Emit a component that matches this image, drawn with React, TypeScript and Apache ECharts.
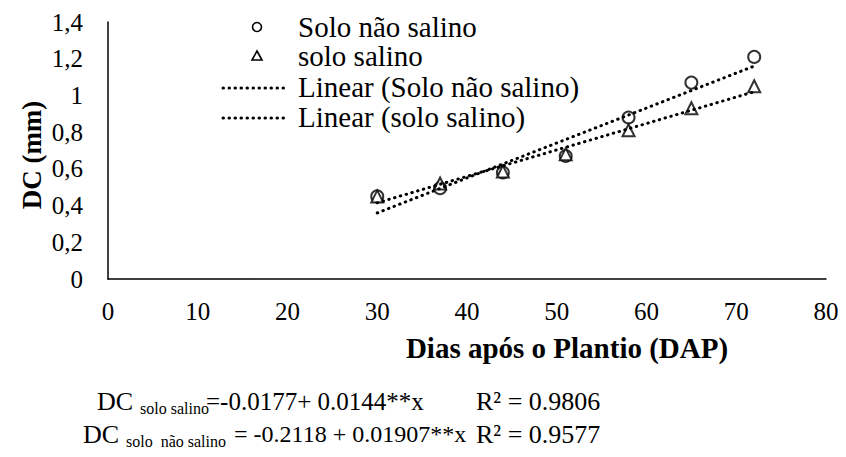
import React, { useEffect, useRef } from "react";
import * as echarts from "echarts";

const days = [30, 37, 44, 51, 58, 65, 72];
const naoSalino = [0.45, 0.495, 0.58, 0.67, 0.88, 1.07, 1.21];
const salino = [0.45, 0.52, 0.585, 0.68, 0.81, 0.93, 1.05];
const trendNaoSalino = [[30, 0.36], [72, 1.16]];
const trendSalino = [[30, 0.415], [72, 1.02]];
const legendNames = ["Solo não salino", "solo salino", "Linear (Solo não salino)", "Linear (solo salino)"];

const FONT = "Liberation Serif";

export default function App() {
  const ref = useRef<HTMLDivElement>(null);
  useEffect(() => {
    if (!ref.current) return;
    const chart = echarts.init(ref.current, null, { renderer: "svg" });
    const dotted = { color: "#000", width: 3, type: [0.5, 5.5] as any, cap: "round" as any };
    const txt = (x: number, y: number, text: string, size: number, extra: any = {}) => ({
      type: "text",
      x,
      y,
      style: { text, fontFamily: FONT, fontSize: size, fill: "#000", verticalAlign: "middle", ...extra },
    });
    const legendY = [27, 56, 87, 117];
    chart.setOption({
      animation: false,
      backgroundColor: "#fff",
      grid: { left: 108, right: 20, top: 22, bottom: 178, containLabel: false },
      xAxis: {
        type: "value",
        min: 0,
        max: 80,
        interval: 10,
        axisLine: { show: true, lineStyle: { color: "#000", width: 1.5 } },
        axisTick: { show: false },
        splitLine: { show: false },
        axisLabel: { color: "#000", fontFamily: FONT, fontSize: 25, margin: 20 },
      },
      yAxis: {
        type: "value",
        min: 0,
        max: 1.4,
        interval: 0.2,
        axisLine: { show: true, lineStyle: { color: "#000", width: 1.5 } },
        axisTick: { show: false },
        splitLine: { show: false },
        axisLabel: {
          color: "#000",
          fontFamily: FONT,
          fontSize: 25,
          margin: 25,
          formatter: (v: number) => String(Math.round(v * 10) / 10).replace(".", ","),
        },
      },
      graphic: [
        {
          type: "text",
          x: 32,
          y: 155,
          rotation: Math.PI / 2,
          style: { text: "DC (mm)", fontFamily: FONT, fontWeight: "bold", fontSize: 27, fill: "#000", align: "center", verticalAlign: "middle" },
        },
        {
          type: "text",
          x: 567,
          y: 348,
          style: { text: "Dias após o Plantio (DAP)", fontFamily: FONT, fontWeight: "bold", fontSize: 29, fill: "#000", align: "center", verticalAlign: "middle" },
        },
        // legend
        { type: "circle", shape: { cx: 257, cy: legendY[0], r: 4.5 }, style: { fill: "#fff", stroke: "#000", lineWidth: 1.6 } },
        { type: "polygon", shape: { points: [[252, legendY[1] + 4], [262, legendY[1] + 4], [257, legendY[1] - 5]] }, style: { fill: "#fff", stroke: "#000", lineWidth: 1.6 } },
        { type: "line", shape: { x1: 223, y1: legendY[2] + 1, x2: 288, y2: legendY[2] + 1 }, style: { stroke: "#000", lineWidth: 3, lineDash: [0.5, 5.5], lineCap: "round" } },
        { type: "line", shape: { x1: 223, y1: legendY[3] + 1, x2: 288, y2: legendY[3] + 1 }, style: { stroke: "#000", lineWidth: 3, lineDash: [0.5, 5.5], lineCap: "round" } },
        ...legendNames.map((n, i) => txt(298, legendY[i], n, 29)),
        // equations
        txt(97, 401, "DC", 26),
        txt(140, 408, "solo salino", 16),
        txt(206, 401, "=-0.0177+ 0.0144**x", 25),
        txt(476, 401, "R² = 0.9806", 26),
        txt(83, 434, "DC", 26),
        txt(126, 441, "solo  não salino", 16),
        txt(234, 434, "= -0.2118 + 0.01907**x", 24),
        txt(476, 434, "R² = 0.9577", 26),
      ],
      series: [
        {
          name: legendNames[0],
          type: "scatter",
          symbol: "emptyCircle",
          symbolSize: 12,
          itemStyle: { color: "#000", borderColor: "#000", borderWidth: 1.8 },
          data: days.map((d, i) => [d, naoSalino[i]]),
          z: 2,
        },
        {
          name: legendNames[1],
          type: "scatter",
          symbol: "emptyTriangle",
          symbolSize: 12,
          itemStyle: { color: "#000", borderColor: "#000", borderWidth: 1.8 },
          data: days.map((d, i) => [d, salino[i]]),
          z: 2,
        },
        {
          name: legendNames[2],
          type: "line",
          symbol: "none",
          lineStyle: dotted,
          data: trendNaoSalino,
          z: 3,
        },
        {
          name: legendNames[3],
          type: "line",
          symbol: "none",
          lineStyle: dotted,
          data: trendSalino,
          z: 3,
        },
      ],
    });
    return () => chart.dispose();
  }, []);
  return <div ref={ref} style={{ width: 846, height: 457, position: "absolute", left: 0, top: 0 }} />;
}
